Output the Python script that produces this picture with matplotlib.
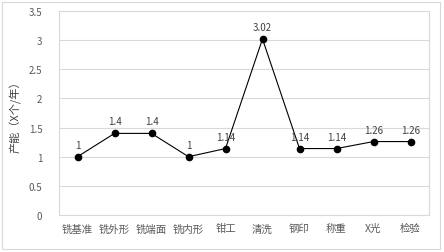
import matplotlib
matplotlib.use("Agg")
import matplotlib.pyplot as plt
from matplotlib.patches import Rectangle

plt.rcParams['font.family'] = ['Noto Sans CJK SC', 'DejaVu Sans']

categories = ["铣基准", "铣外形", "铣端面", "铣内形", "钳工", "清洗", "钢印", "称重", "X光", "检验"]
values = [1, 1.4, 1.4, 1, 1.14, 3.02, 1.14, 1.14, 1.26, 1.26]
labels = ["1", "1.4", "1.4", "1", "1.14", "3.02", "1.14", "1.14", "1.26", "1.26"]
yticks = [0, 0.5, 1, 1.5, 2, 2.5, 3, 3.5]
ytick_labels = ["0", "0.5", "1", "1.5", "2", "2.5", "3", "3.5"]

fig = plt.figure(figsize=(4.44, 2.53), dpi=100)
fig.patch.set_facecolor("white")
fig.add_artist(Rectangle((0.005, 0.01), 0.985, 0.98, transform=fig.transFigure,
                         fill=False, edgecolor="#d9d9d9", linewidth=0.8))

ax = fig.add_axes([59/444, 1 - 216/253, (429-59)/444, (216-12)/253])
x = list(range(len(categories)))
ax.plot(x, values, color="black", linewidth=0.8, marker="o", markersize=4.5, zorder=3)
for xi, v, lab in zip(x, values, labels):
    ax.annotate(lab, (xi, v), xytext=(0, 5), textcoords="offset points",
                ha="center", va="bottom", fontsize=7, color="#404040")

ax.set_xlim(-0.5, len(categories) - 0.5)
ax.set_ylim(0, 3.5)
ax.set_yticks(yticks)
ax.set_yticklabels(ytick_labels)
ax.set_xticks(x)
ax.set_xticklabels(categories)
ax.tick_params(axis="y", length=0, labelsize=7, colors="#595959", pad=12)
ax.tick_params(axis="x", length=0, labelsize=7.5, colors="#595959", pad=6)
ax.grid(axis="y", color="#d9d9d9", linewidth=0.8)
ax.set_axisbelow(True)
for s in ax.spines.values():
    s.set_color("#d9d9d9")
    s.set_linewidth(0.8)
ax.set_ylabel("产能（X个/年）", fontsize=8, color="#404040", labelpad=5)

fig.savefig("out.png", dpi=100)
